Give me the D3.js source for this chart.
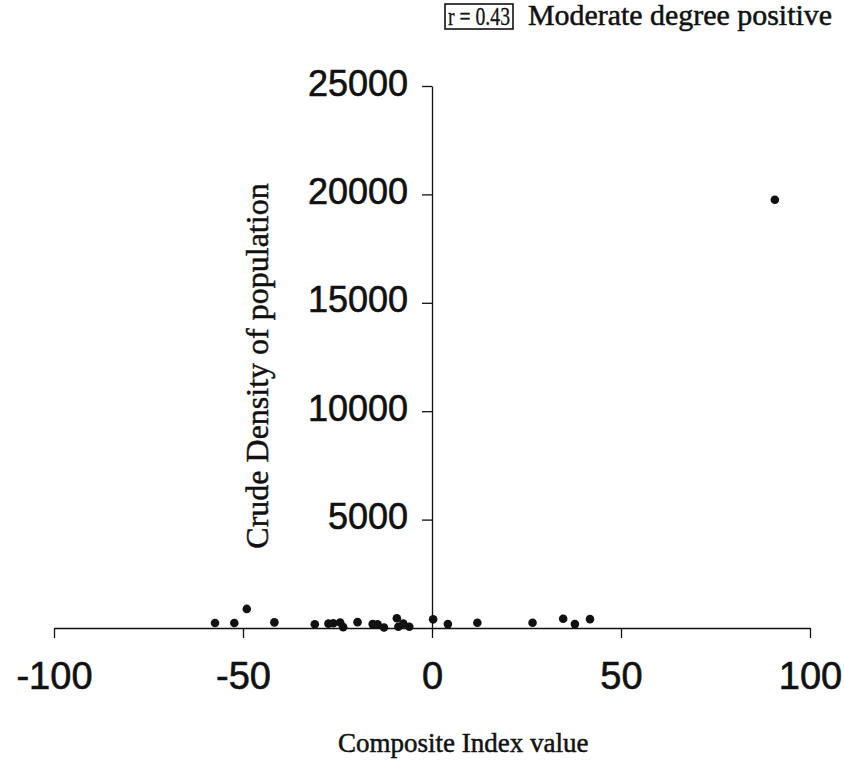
<!DOCTYPE html>
<html>
<head>
<meta charset="utf-8">
<script src="https://cdn.jsdelivr.net/npm/d3@7"></script>
<style>
    body { margin: 0; background: #fff; }
    svg { display: block; }
</style>
</head>
<body>
<svg class="d3" width="844" height="763"></svg>
<script>
// Data
const compositeIndex = [-57.4, -52.3, -49.0, -41.7, -31.0, -27.4, -26.1, -24.3, -23.5, -19.7, -15.7, -14.4,
    -12.7, -9.3, -8.9, -7.6, -6.0, 0.3, 4.2, 12.0, 26.6, 34.7, 37.8, 41.8, 90.7];
const crudeDensity = [230, 230, 880, 260, 170, 200, 220, 250, 40, 270, 180, 170,
    20, 450, 60, 200, 60, 400, 180, 240, 240, 430, 180, 410, 19750];
const xTicks = [-100, -50, 0, 50, 100];
const yTicks = [5000, 10000, 15000, 20000, 25000];
const rLabel = 'r = 0.43';
const rComment = 'Moderate degree positive';

const svg = d3.select('svg.d3');
const ink = '#111';
const serif = '"Liberation Serif", "Times New Roman", serif';
const sans = '"Liberation Sans", Arial, sans-serif';

const x = d3.scaleLinear().domain([-100, 100]).range([54, 810]);
const y = d3.scaleLinear().domain([0, 25000]).range([628, 86]);

// x axis sits on y = 0, plain hyphen for negatives like the scan
const xAxis = svg.append('g')
    .attr('transform', `translate(0, ${y(0)})`)
    .call(d3.axisBottom(x).tickValues(xTicks).tickSize(10).tickSizeOuter(0).tickPadding(24)
        .tickFormat(d => String(d)));
xAxis.select('.domain').attr('stroke', ink).attr('stroke-width', 1.3);
xAxis.selectAll('line').attr('stroke', ink).attr('stroke-width', 1.3);
xAxis.selectAll('text')
    .attr('fill', ink)
    .attr('stroke', ink)
    .attr('stroke-width', 0.6)
    .style('font-family', sans)
    .style('font-size', '38px');

// y axis sits on x = 0
const yAxis = svg.append('g')
    .attr('transform', `translate(${x(0)}, 0)`)
    .call(d3.axisLeft(y).tickValues(yTicks).tickSize(10).tickSizeOuter(0).tickPadding(14)
        .tickFormat(d => String(d)));
yAxis.select('.domain').attr('stroke', ink).attr('stroke-width', 1.3);
yAxis.selectAll('line').attr('stroke', ink).attr('stroke-width', 1.3);
yAxis.selectAll('text')
    .attr('fill', ink)
    .attr('stroke', ink)
    .attr('stroke-width', 0.6)
    .attr('dy', '0.25em')
    .style('font-family', sans)
    .style('font-size', '36px');

// points
svg.append('g')
    .selectAll('circle')
    .data(compositeIndex.map((v, i) => ({ x: v, y: crudeDensity[i] })))
    .enter()
    .append('circle')
    .attr('cx', d => x(d.x))
    .attr('cy', d => y(d.y))
    .attr('r', 4.3)
    .attr('fill', ink);

// axis titles
svg.append('text')
    .attr('x', 338)
    .attr('y', 752)
    .text('Composite Index value')
    .attr('fill', ink)
    .attr('stroke', ink)
    .attr('stroke-width', 0.5)
    .style('font-family', serif)
    .style('font-size', '27px');

svg.append('text')
    .attr('transform', 'translate(268, 366) rotate(-90)')
    .attr('text-anchor', 'middle')
    .text('Crude Density of population')
    .attr('fill', ink)
    .attr('stroke', ink)
    .attr('stroke-width', 0.5)
    .style('font-family', serif)
    .style('font-size', '32px');

// correlation note in the top right
svg.append('rect')
    .attr('x', 445)
    .attr('y', 4)
    .attr('width', 68)
    .attr('height', 25)
    .attr('fill', 'none')
    .attr('stroke', ink)
    .attr('stroke-width', 1.6);
svg.append('text')
    .attr('x', 448)
    .attr('y', 25)
    .attr('textLength', 62)
    .attr('lengthAdjust', 'spacingAndGlyphs')
    .text(rLabel)
    .attr('fill', ink)
    .attr('stroke', ink)
    .attr('stroke-width', 0.3)
    .style('font-family', serif)
    .style('font-size', '26px');
svg.append('text')
    .attr('x', 528)
    .attr('y', 25)
    .attr('textLength', 304)
    .attr('lengthAdjust', 'spacingAndGlyphs')
    .text(rComment)
    .attr('fill', ink)
    .attr('stroke', ink)
    .attr('stroke-width', 0.5)
    .style('font-family', serif)
    .style('font-size', '29px');
</script>
</body>
</html>
